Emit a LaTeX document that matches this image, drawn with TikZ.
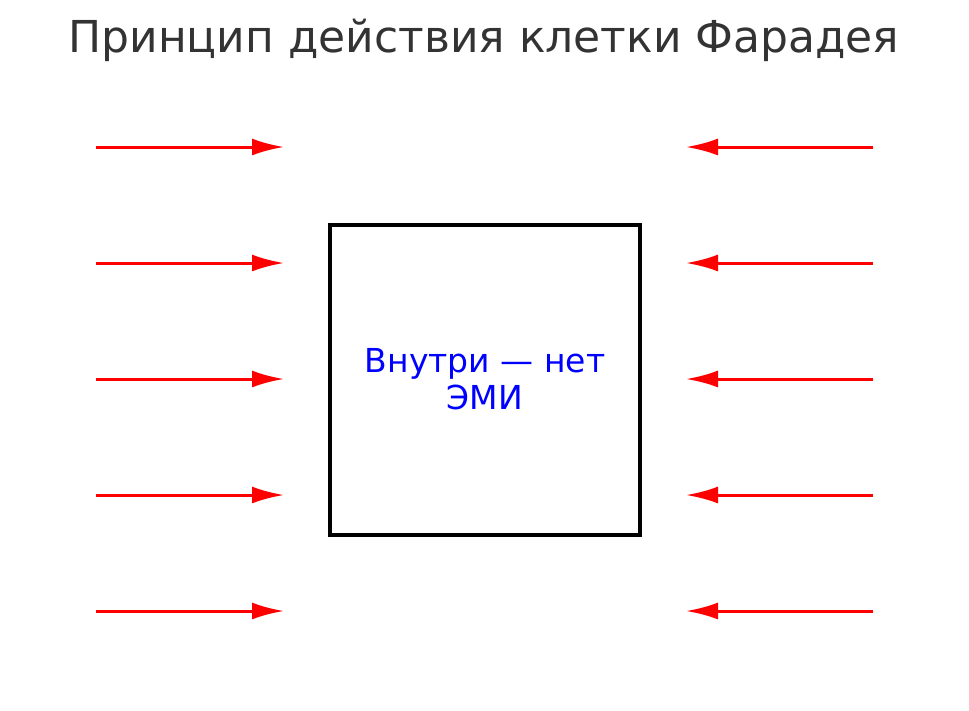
\documentclass[tikz,border=0pt]{standalone}
\usepackage{fontspec}
\setmainfont{DejaVu Sans}
\usetikzlibrary{arrows.meta}
\begin{document}
\begin{tikzpicture}[x=1pt,y=-1pt,
  wave/.style={draw=red,line width=3pt,-{Latex[length=32pt,width=17pt]}},
  cage/.style={draw=black,line width=4.5pt,minimum width=310pt,minimum height=310pt,inner sep=0pt}]
\useasboundingbox (0,0) rectangle (969,710);
\node (title) at (484,40) {\fontsize{44}{50}\selectfont\color[HTML]{333333}Принцип действия клетки Фарадея};
\node[cage] (box) at (485,380) {};
\node[align=center,text=blue,font=\fontsize{33}{37}\selectfont] (lbl) at (485,379) {Внутри — нет\\ЭМИ};
\foreach \i/\y in {1/147,2/263,3/379,4/495,5/611}{
  \coordinate (ls\i) at (96,\y); \coordinate (le\i) at (284,\y);
  \coordinate (rs\i) at (873,\y); \coordinate (re\i) at (686,\y);
  \draw[wave] (ls\i) -- (le\i);
  \draw[wave] (rs\i) -- (re\i);
}
\end{tikzpicture}
\end{document}
